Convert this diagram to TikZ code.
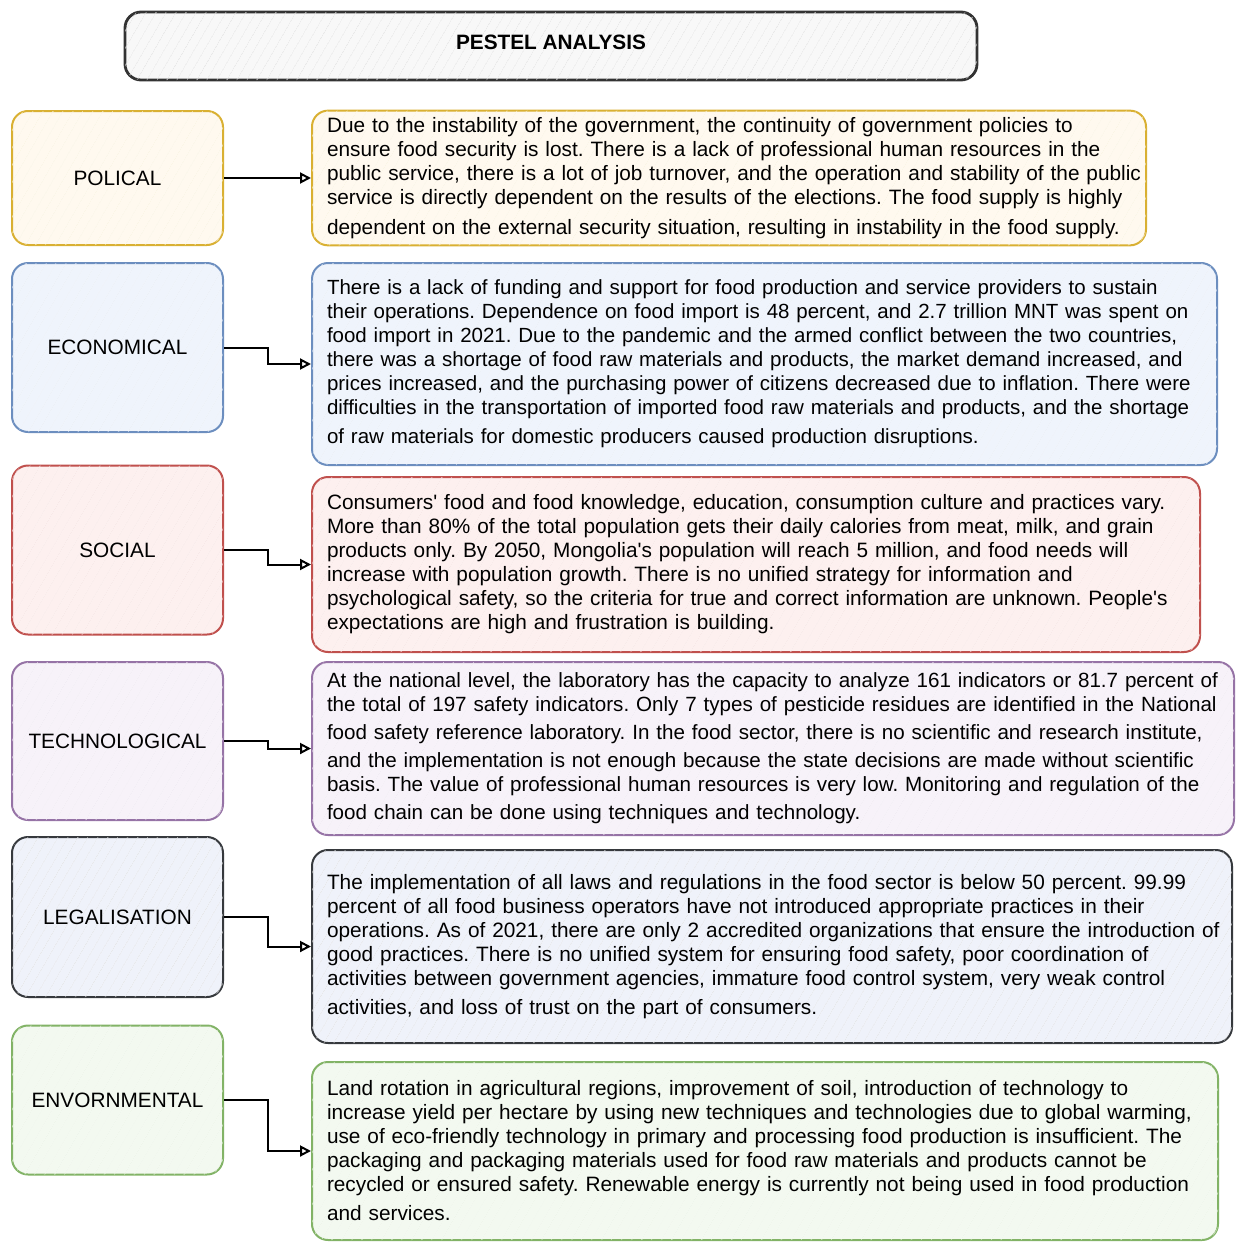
\documentclass[tikz,border=0pt]{standalone}
\usepackage{fontspec}
\setmainfont{Liberation Sans}
\usetikzlibrary{arrows.meta,calc,patterns.meta}

\definecolor{polline}{HTML}{D9B032}
\definecolor{polfill}{HTML}{FFF9EF}
\definecolor{ecoline}{HTML}{6C8EBF}
\definecolor{ecofill}{HTML}{EFF4FC}
\definecolor{socline}{HTML}{C0504D}
\definecolor{socfill}{HTML}{FDF0EF}
\definecolor{tecline}{HTML}{9673A6}
\definecolor{tecfill}{HTML}{F7F2F9}
\definecolor{legline}{HTML}{36393D}
\definecolor{legfill}{HTML}{EFF2FA}
\definecolor{envline}{HTML}{82B366}
\definecolor{envfill}{HTML}{F3F9F0}
\definecolor{titline}{HTML}{333333}
\definecolor{titfill}{HTML}{F8F8F8}

\begin{document}
\frenchspacing
\begin{tikzpicture}[x=0.5pt, y=-0.5pt,
  box/.style={draw, rounded corners=8pt, line width=1pt,
    font=\fontsize{10.4}{12}\selectfont},
  tone/.style={draw=#1line, fill=#1fill,
    postaction={pattern={Lines[angle=60,distance=4pt,line width=0.25pt]},
      pattern color=#1line!15}},
  factor/.style={box, minimum width=105.5pt, align=center},
  desc/.style={box, align=left, inner xsep=1pt,
    execute at begin node={\leftskip=6.5pt\hyphenpenalty=10000\relax}},
  flow/.style={draw=black, line width=1pt, -{Triangle[open,length=5.5pt,width=5.5pt]},
    to path={-| ($(\tikztostart)!0.5!(\tikztotarget)$) |- (\tikztotarget)}}]
  \useasboundingbox (0,0) rectangle (1239,1242);

  % heading
  \node[box, tone=tit, line width=1.4pt, minimum width=426pt, minimum height=34pt,
    text depth=4pt, font=\fontsize{10.4}{12}\selectfont\bfseries] (head) at (551,46) {PESTEL ANALYSIS};

  % factors, left column
  \node[factor, tone=pol, minimum height=67pt]   (pol) at (117.5,178)  {POLICAL};
  \node[factor, tone=eco, minimum height=84.5pt] (eco) at (117.5,347.5) {ECONOMICAL};
  \node[factor, tone=soc, minimum height=84.5pt] (soc) at (117.5,550)  {SOCIAL};
  \node[factor, tone=tec, minimum height=79pt]   (tec) at (117.5,741)  {TECHNOLOGICAL};
  \node[factor, tone=leg, minimum height=80pt]   (leg) at (117.5,917)  {LEGALISATION};
  \node[factor, tone=env, minimum height=74.5pt] (env) at (117.5,1100) {ENVORNMENTAL};

  % descriptions, right column
  \node[desc, tone=pol, text width=415pt, minimum height=67pt] (poltxt) at (729,178)
    {Due to the instability of the government, the continuity of government policies to\\
     ensure food security is lost. There is a lack of professional human resources in the\\
     public service, there is a lot of job turnover, and the operation and stability of the public\\
     service is directly dependent on the results of the elections. The food supply is highly\\[3pt]
     dependent on the external security situation, resulting in instability in the food supply.};
  \node[desc, tone=eco, text width=450.5pt, minimum height=101pt,
    font=\fontsize{10.25}{12}\selectfont] (ecotxt) at (764.5,364)
    {There is a lack of funding and support for food production and service providers to sustain\\
     their operations. Dependence on food import is 48 percent, and 2.7 trillion MNT was spent on\\
     food import in 2021. Due to the pandemic and the armed conflict between the two countries,\\
     there was a shortage of food raw materials and products, the market demand increased, and\\
     prices increased, and the purchasing power of citizens decreased due to inflation. There were\\
     difficulties in the transportation of imported food raw materials and products, and the shortage\\[2.5pt]
     of raw materials for domestic producers caused production disruptions.};
  \node[desc, tone=soc, text width=442pt, minimum height=87.5pt] (soctxt) at (756,564.5)
    {Consumers\textquotesingle{} food and food knowledge, education, consumption culture and practices vary.\\
     More than 80\% of the total population gets their daily calories from meat, milk, and grain\\
     products only. By 2050, Mongolia\textquotesingle s population will reach 5 million, and food needs will\\
     increase with population growth. There is no unified strategy for information and\\
     psychological safety, so the criteria for true and correct information are unknown. People\textquotesingle s\\
     expectations are high and frustration is building.};
  \node[desc, tone=tec, text width=459pt, minimum height=86.5pt,
    font=\fontsize{10.3}{12}\selectfont] (tectxt) at (773,748.5)
    {At the national level, the laboratory has the capacity to analyze 161 indicators or 81.7 percent of\\
     the total of 197 safety indicators. Only 7 types of pesticide residues are identified in the National\\[2pt]
     food safety reference laboratory. In the food sector, there is no scientific and research institute,\\[2pt]
     and the implementation is not enough because the state decisions are made without scientific\\
     basis. The value of professional human resources is very low. Monitoring and regulation of the\\[2pt]
     food chain can be done using techniques and technology.};
  \node[desc, tone=leg, text width=458pt, minimum height=96.5pt] (legtxt) at (772,946.5)
    {The implementation of all laws and regulations in the food sector is below 50 percent. 99.99\\
     percent of all food business operators have not introduced appropriate practices in their\\
     operations. As of 2021, there are only 2 accredited organizations that ensure the introduction of\\
     good practices. There is no unified system for ensuring food safety, poor coordination of\\
     activities between government agencies, immature food control system, very weak control\\[2.5pt]
     activities, and loss of trust on the part of consumers.};
  \node[desc, tone=env, text width=451pt, minimum height=89pt] (envtxt) at (765,1151)
    {Land rotation in agricultural regions, improvement of soil, introduction of technology to\\
     increase yield per hectare by using new techniques and technologies due to global warming,\\
     use of eco-friendly technology in primary and processing food production is insufficient. The\\
     packaging and packaging materials used for food raw materials and products cannot be\\
     recycled or ensured safety. Renewable energy is currently not being used in food production\\[2.5pt]
     and services.};

  % links
  \foreach \f in {pol,eco,soc,tec,leg,env}
    \draw[flow] (\f.east) to (\f txt.west);
\end{tikzpicture}
\end{document}
